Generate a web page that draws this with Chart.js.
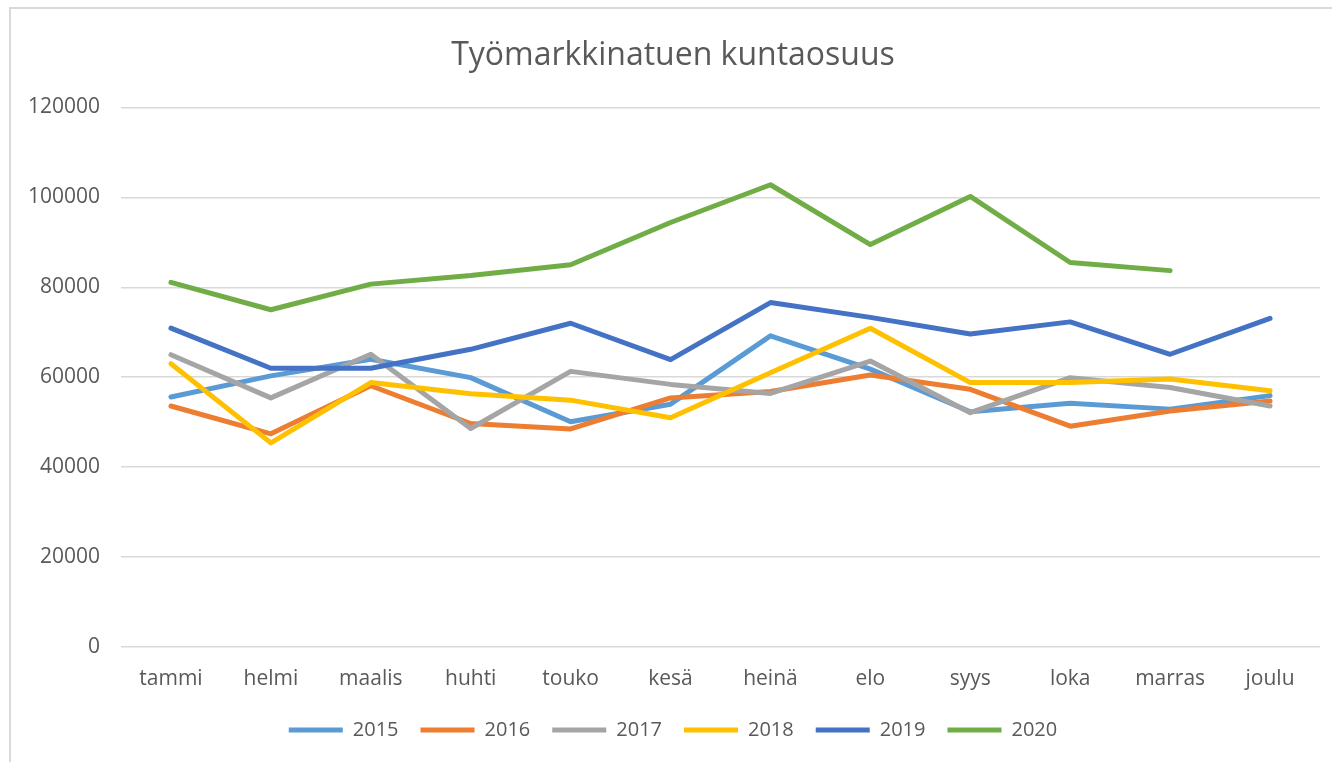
<!DOCTYPE html>
<html>
<head>
<meta charset="utf-8">
<script src="https://cdn.jsdelivr.net/npm/chart.js@4/dist/chart.umd.min.js"></script>
<style>
  body { margin: 0; background: #fff; }
  #frame { position: absolute; left: 9px; top: 7px; width: 1340px; height: 770px; border: 2px solid #d9d9d9; }
  #wrap { position: absolute; left: 0; top: 0; width: 1332px; height: 762px; }
</style>
</head>
<body>
<div id="frame"></div>
<div id="wrap"><canvas id="chart" width="1332" height="762"></canvas></div>
<script>
// months (Finnish short names)
const months = ['tammi', 'helmi', 'maalis', 'huhti', 'touko', 'kesä', 'heinä', 'elo', 'syys', 'loka', 'marras', 'joulu'];

// values
const v2015 = [55600, 60300, 64000, 59900, 50100, 54000, 69200, 61800, 52300, 54200, 52900, 55900];
const v2016 = [53600, 47400, 58100, 49700, 48500, 55400, 56800, 60500, 57300, 49100, 52500, 54700];
const v2017 = [65000, 55400, 65100, 48600, 61300, 58400, 56400, 63600, 52100, 59900, 57700, 53600];
const v2018 = [63000, 45400, 58800, 56300, 54900, 51000, 61000, 70900, 58800, 58800, 59600, 57000];
const v2019 = [70900, 62000, 62000, 66200, 72000, 63900, 76600, 73300, 69600, 72300, 65100, 73100];
const v2020 = [81100, 75000, 80700, 82600, 85000, 94400, 102800, 89500, 100200, 85500, 83700, null];

const years = ['2015', '2016', '2017', '2018', '2019', '2020'];
const colors = ['#5B9BD5', '#ED7D31', '#A5A5A5', '#FFC000', '#4472C4', '#70AD47'];
const series = [v2015, v2016, v2017, v2018, v2019, v2020];

const textColor = '#595959';
const gridColor = '#d9d9d9';

const datasets = series.map((vals, i) => ({
  label: years[i],
  data: vals,
  borderColor: colors[i],
  backgroundColor: colors[i],
  borderWidth: 5,
  borderCapStyle: 'round',
  borderJoinStyle: 'round',
  pointRadius: 0,
  tension: 0,
  // later years drawn on top, like the original
  order: series.length - 1 - i
}));

new Chart(document.getElementById('chart'), {
  type: 'line',
  data: { labels: months, datasets },
  options: {
    responsive: false,
    animation: false,
    devicePixelRatio: 1,
    // left padding nudges title/legend right; y axis width keeps the plot at x=121
    layout: { padding: { left: 26, right: 12, top: 0, bottom: 12 } },
    plugins: {
      title: {
        display: true,
        text: 'Työmarkkinatuen kuntaosuus',
        color: textColor,
        font: { family: 'Open Sans', size: 32, weight: 'normal' },
        padding: { top: 37, bottom: 32 }
      },
      legend: {
        position: 'bottom',
        reverse: true,
        labels: {
          color: textColor,
          font: { family: 'Open Sans', size: 20 },
          usePointStyle: true,
          pointStyle: 'line',
          pointStyleWidth: 54,
          padding: 22
        }
      },
      tooltip: { enabled: false }
    },
    scales: {
      x: {
        offset: true,
        grid: { display: false },
        border: { display: false },
        ticks: {
          color: textColor,
          font: { family: 'Open Sans', size: 21 },
          padding: 11,
          maxRotation: 0
        },
        afterFit: s => { s.height = 51; }
      },
      y: {
        min: 0,
        max: 120000,
        border: { display: false },
        grid: { color: gridColor, lineWidth: 1.5, drawTicks: false },
        ticks: {
          stepSize: 20000,
          color: textColor,
          font: { family: 'Open Sans', size: 21 },
          padding: 21,
          callback: v => String(v)
        },
        afterFit: s => { s.width = 95; }
      }
    }
  }
});
</script>
</body>
</html>
